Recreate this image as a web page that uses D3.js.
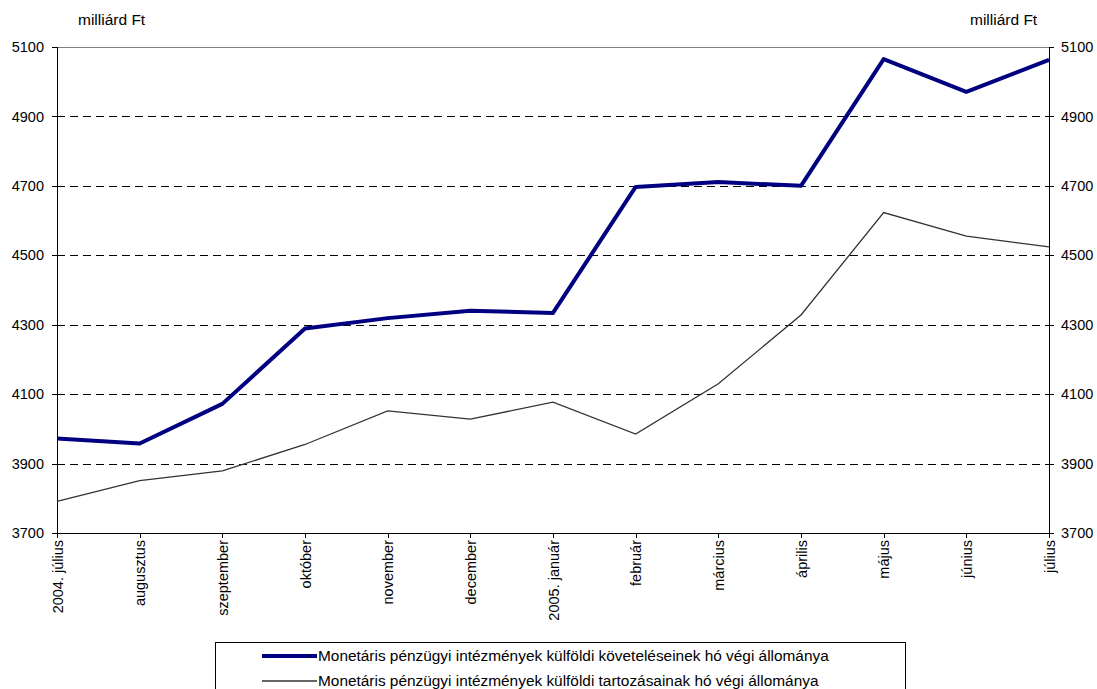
<!DOCTYPE html>
<html>
<head>
<meta charset="utf-8">
<script src="https://cdn.jsdelivr.net/npm/d3@7"></script>
<style>
  body { margin: 0; background: #fff; }
  text { font-family: "Liberation Sans", Arial, sans-serif; fill: #000; }
</style>
</head>
<body>
<svg id="chart" width="1097" height="689"></svg>
<script>
// Categories (months) and the two series
var months = ["2004. július", "augusztus", "szeptember", "október", "november", "december",
              "2005. január", "február", "március", "április", "május", "június", "július"];
var claims = [3972, 3958, 4072, 4289, 4319, 4340, 4334, 4697, 4711, 4700, 5065, 4971, 5063];
var liabilities = [3791, 3851, 3879, 3955, 4052, 4028, 4077, 3985, 4130, 4328, 4623, 4555, 4524];
var yTicks = [3700, 3900, 4100, 4300, 4500, 4700, 4900, 5100];
var unitLabel = "milliárd Ft";
var legendNames = [
  "Monetáris pénzügyi intézmények külföldi követeléseinek hó végi állománya",
  "Monetáris pénzügyi intézmények külföldi tartozásainak hó végi állománya"
];

var svg = d3.select("#chart");
var plotLeft = 57, plotRight = 1049, plotTop = 47, plotBottom = 533;

var x = d3.scalePoint().domain(months).range([plotLeft, plotRight]);
var y = d3.scaleLinear().domain([3700, 5100]).range([plotBottom, plotTop]);

// grid lines (dashed), top border gray
svg.append("g").selectAll("line")
  .data(yTicks.filter(function(d) { return d > 3700; }))
  .enter().append("line")
  .attr("x1", plotLeft).attr("x2", plotRight)
  .attr("y1", function(d) { return Math.round(y(d)) + 0.5; })
  .attr("y2", function(d) { return Math.round(y(d)) + 0.5; })
  .attr("stroke", function(d) { return d === 5100 ? "#808080" : "#000"; })
  .attr("stroke-width", 1)
  .attr("stroke-dasharray", function(d) { return d === 5100 ? null : "8,5"; });

// axes
var fmt = d3.format("d");
var leftAxis = d3.axisLeft(y).tickValues(yTicks).tickFormat(fmt).tickSize(5).tickPadding(8);
var rightAxis = d3.axisRight(y).tickValues(yTicks).tickFormat(fmt).tickSize(5).tickPadding(7);
var bottomAxis = d3.axisBottom(x).tickSize(5).tickPadding(4);

function styleAxis(g) {
  g.select(".domain").attr("stroke", "#000").attr("shape-rendering", "crispEdges");
  g.selectAll(".tick line").attr("stroke", "#000").attr("shape-rendering", "crispEdges");
  g.selectAll("text").style("font-size", "14.5px").attr("font-family", null);
}

svg.append("g").attr("transform", "translate(" + plotLeft + ",0)").call(leftAxis).call(styleAxis);
svg.append("g").attr("transform", "translate(" + plotRight + ",0)").call(rightAxis).call(styleAxis);
var gx = svg.append("g").attr("transform", "translate(0," + plotBottom + ")").call(bottomAxis).call(styleAxis);
gx.select(".domain").attr("d", "M" + plotLeft + ",0H" + plotRight);
gx.selectAll(".tick text")
  .attr("transform", "rotate(-90)")
  .attr("text-anchor", "end")
  .attr("dy", "0.35em")
  .attr("x", -7)
  .attr("y", 0);

// unit labels
svg.append("text").attr("x", 78).attr("y", 25).style("font-size", "15.5px").text(unitLabel);
svg.append("text").attr("x", 970).attr("y", 25).style("font-size", "15.5px").text(unitLabel);

// lines
var line = d3.line()
  .x(function(d, i) { return x(months[i]); })
  .y(function(d) { return y(d); });

svg.append("path").datum(liabilities)
  .attr("d", line).attr("fill", "none")
  .attr("stroke", "#333").attr("stroke-width", 1.3);

svg.append("path").datum(claims)
  .attr("d", line).attr("fill", "none")
  .attr("stroke", "#000080").attr("stroke-width", 4)
  .attr("stroke-linejoin", "round");

// legend
var lg = svg.append("g");
lg.append("rect").attr("x", 215.5).attr("y", 642.5).attr("width", 690).attr("height", 60)
  .attr("fill", "#fff").attr("stroke", "#000").attr("stroke-width", 1);
var legendStyles = [{ c: "#000080", w: 4 }, { c: "#333", w: 1.3 }];
legendNames.forEach(function(name, i) {
  var yy = 656 + i * 25;
  lg.append("line").attr("x1", 262).attr("x2", 317).attr("y1", yy).attr("y2", yy)
    .attr("stroke", legendStyles[i].c).attr("stroke-width", legendStyles[i].w);
  lg.append("text").attr("x", 318).attr("y", yy).attr("dy", "0.35em")
    .style("font-size", "15.4px").text(name);
});
</script>
</body>
</html>
